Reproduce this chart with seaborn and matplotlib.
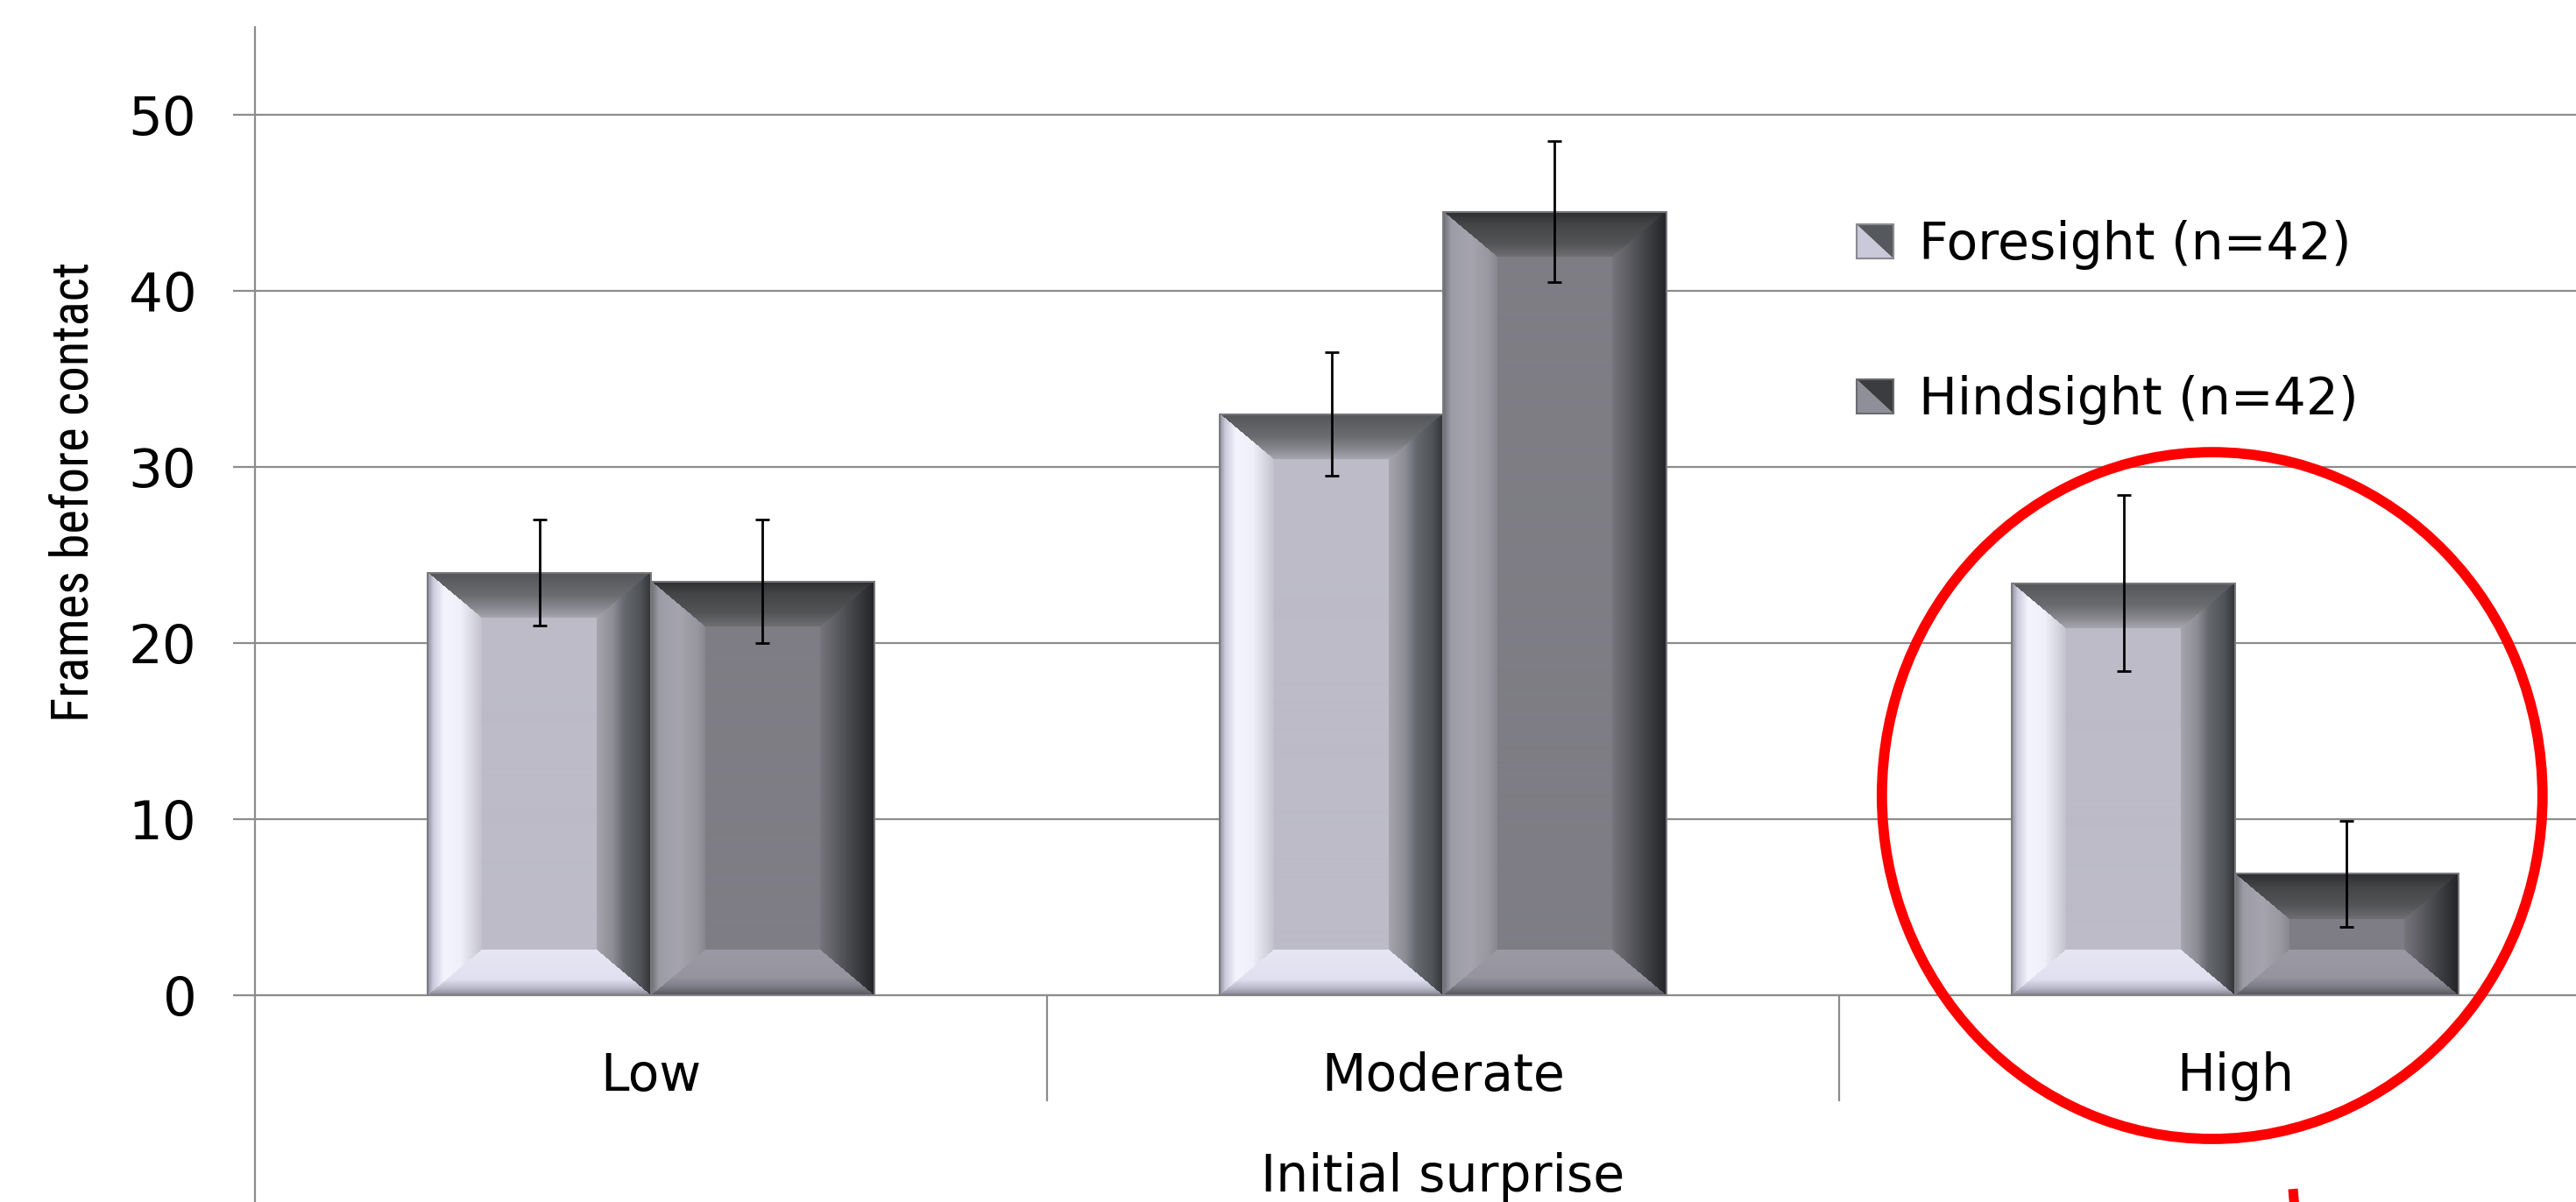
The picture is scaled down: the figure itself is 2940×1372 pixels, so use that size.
import numpy as np
import pandas as pd
import matplotlib
matplotlib.use("Agg")
import matplotlib.pyplot as plt
import seaborn as sns
from matplotlib import font_manager as fm
from matplotlib.patches import Ellipse, Polygon, Rectangle, Patch
from matplotlib.legend_handler import HandlerBase
from matplotlib.colors import to_rgb

# ---- data -------------------------------------------------------------
categories = ["Low", "Moderate", "High"]
groups = ["Foresight (n=42)", "Hindsight (n=42)"]
foresight = [24.0, 33.0, 23.4]
foresight_err = [3.0, 3.5, 5.0]
hindsight = [23.5, 44.5, 6.9]
hindsight_err = [3.5, 4.0, 3.0]
y_ticks = [0, 10, 20, 30, 40, 50]

df = pd.DataFrame({
    "surprise": categories * 2,
    "group": [groups[0]] * len(categories) + [groups[1]] * len(categories),
    "frames": foresight + hindsight,
})
errors = {groups[0]: foresight_err, groups[1]: hindsight_err}

# ---- bevel styles (face + gradient stops from outer edge t=0 to inner t=1)
styles = {
    groups[0]: {
        "face": "#BDBBC8",
        "left": [(0, "#8a8a98"), (0.1, "#c8c8da"), (0.3, "#f4f4ff"), (0.6, "#f0f0fb"), (0.85, "#d5d5e0"), (1, "#c2c1cc")],
        "top": [(0, "#545558"), (0.5, "#6b6c6f"), (0.8, "#8a8a90"), (1, "#a7a7b0")],
        "right": [(0, "#323538"), (0.2, "#505357"), (0.5, "#666a6f"), (0.7, "#8d8d95"), (1, "#a6a5af")],
        "bottom": [(0, "#84848f"), (0.15, "#b8b8c8"), (0.35, "#e0e0f0"), (1, "#e6e6f4")],
    },
    groups[1]: {
        "face": "#7E7D84",
        "left": [(0, "#6c6c74"), (0.15, "#9c9ca6"), (0.5, "#a6a5af"), (0.85, "#98979f"), (1, "#88878e")],
        "top": [(0, "#2c2d2f"), (0.3, "#454648"), (0.7, "#535456"), (1, "#6f6f73")],
        "right": [(0, "#222426"), (0.3, "#3a3c3f"), (0.6, "#54555a"), (1, "#76757c")],
        "bottom": [(0, "#56565e"), (0.2, "#7f7f89"), (0.4, "#96959f"), (1, "#9b9aa4")],
    },
}

W, H, DPI = 2940, 1372, 100
GRID = "#8c8c8c"

sns.set_theme(style="white")
plt.rcParams["font.family"] = ["DejaVu Sans"]
plt.rcParams["text.color"] = "black"
plt.rcParams["axes.labelcolor"] = "black"

fig = plt.figure(figsize=(W / DPI, H / DPI), dpi=DPI)
fig.patch.set_facecolor("white")
ax = fig.add_axes([291 / W, (H - 1136) / H, 2712 / W, 1105.5 / H])

sns.barplot(data=df, x="surprise", y="frames", hue="group", order=categories,
            hue_order=groups, palette=[styles[g]["face"] for g in groups],
            width=0.564, errorbar=None, edgecolor="none", linewidth=0,
            legend=False, ax=ax, zorder=3)

ax.set_xlim(-0.5, len(categories) - 0.5)
ax.set_ylim(0, 55)


def ramp(stops, t):
    ts = [s[0] for s in stops]
    cols = np.array([to_rgb(s[1]) for s in stops])
    return np.stack([np.interp(t, ts, cols[:, k]) for k in range(3)], axis=-1)


def bevel_image(wpx, hpx, style, bx=62.0, by=52.0):
    nx, ny = max(int(round(wpx)), 2), max(int(round(hpx)), 2)
    X, Y = np.meshgrid(np.arange(nx) + 0.5, np.arange(ny) + 0.5)
    D = np.stack([X / bx, Y / by, (nx - X) / bx, (ny - Y) / by])
    idx = np.argmin(D, axis=0)
    dmin = np.min(D, axis=0)
    img = np.empty((ny, nx, 3))
    img[:] = to_rgb(style["face"])
    for k, side in enumerate(["left", "top", "right", "bottom"]):
        m = (idx == k) & (dmin < 1)
        img[m] = ramp(style[side], dmin[m])
    return img


# pixel size of one data unit along each axis
p0 = ax.transData.transform((0, 0))
p1 = ax.transData.transform((1, 1))
sx, sy = p1[0] - p0[0], p1[1] - p0[1]

for g, container in zip(groups, ax.containers):
    xs, ys = [], []
    for bar in container:
        x0, w, h = bar.get_x(), bar.get_width(), bar.get_height()
        img = bevel_image(w * sx, h * sy, styles[g])
        ax.imshow(img, extent=(x0, x0 + w, 0, h), origin="upper",
                  aspect="auto", interpolation="bilinear", zorder=3.5)
        ax.add_patch(Rectangle((x0, 0), w, h, fill=False, ec="#7a7a7e",
                               lw=1.4, zorder=3.8))
        xs.append(x0 + w / 2)
        ys.append(h)
    ax.errorbar(xs, ys, yerr=errors[g], fmt="none", ecolor="black",
                elinewidth=2.0, capsize=6, capthick=2.0, zorder=5)

ax.set_xlim(-0.5, len(categories) - 0.5)
ax.set_ylim(0, 55)

# ---- axes styling -------------------------------------------------------
ax.set_yticks(y_ticks)
ax.set_yticklabels([str(v) for v in y_ticks], fontsize=44)
ax.yaxis.grid(True, color=GRID, lw=1.6, zorder=0)
ax.xaxis.grid(False)
ax.set_axisbelow(True)
ax.tick_params(axis="y", direction="out", length=18, width=1.6, color=GRID,
               labelcolor="black", pad=30, left=True)
ax.tick_params(axis="x", which="major", length=0, pad=46, labelsize=42,
               labelcolor="black")
ax.set_xticks(range(len(categories)))
ax.set_xticklabels(categories)
ax.set_xticks([i + 0.5 for i in range(len(categories))], minor=True)
ax.tick_params(axis="x", which="minor", direction="out", length=87, width=1.6,
               color=GRID, bottom=True)

for side in ["top", "right"]:
    ax.spines[side].set_visible(False)
ax.spines["left"].set_color(GRID)
ax.spines["left"].set_linewidth(1.6)
ax.spines["left"].set_bounds(-12.5, 55)
ax.spines["bottom"].set_color(GRID)
ax.spines["bottom"].set_linewidth(1.6)

ax.set_xlabel("Initial surprise", fontsize=42)
ax.xaxis.set_label_coords(0.5, -0.1615)

# y label in a narrow face when one is available, sized to its span
label_family = "DejaVu Sans"
label_stretch = "normal"
for fam, stretch in [("Liberation Sans Narrow", "normal"),
                     ("Roboto Condensed", "normal"),
                     ("DejaVu Sans", "condensed"),
                     ("Roboto", "condensed"),
                     ("Roboto", "normal")]:
    try:
        path = fm.findfont(fm.FontProperties(family=fam, stretch=stretch),
                           fallback_to_default=False)
        if stretch == "condensed" and "ondensed" not in path:
            continue
        label_family, label_stretch = fam, stretch
        break
    except Exception:
        continue

ylab = ax.set_ylabel("Frames before contact", fontsize=44,
                     family=label_family, fontstretch=label_stretch)
renderer = fig.canvas.get_renderer()
span = ylab.get_window_extent(renderer).height
ylab.set_fontsize(44 * 525.0 / span)
ax.yaxis.set_label_coords(-0.066, 0.52)


# ---- legend with bevelled square keys -------------------------------------
class BevelKey(HandlerBase):
    def __init__(self, light, dark, edge):
        super().__init__()
        self.light, self.dark, self.edge = light, dark, edge

    def create_artists(self, legend, orig_handle, xdescent, ydescent,
                       width, height, fontsize, trans):
        x0, y0 = -xdescent, -ydescent
        lower = Polygon([[x0, y0 + height], [x0, y0], [x0 + width, y0]],
                        closed=True, fc=self.light, ec="none", transform=trans)
        upper = Polygon([[x0, y0 + height], [x0 + width, y0 + height],
                         [x0 + width, y0]], closed=True, fc=self.dark,
                        ec="none", transform=trans)
        frame = Rectangle((x0, y0), width, height, fill=False, ec=self.edge,
                          lw=1.5, transform=trans)
        return [lower, upper, frame]


h_fore = Patch(label=groups[0])
h_hind = Patch(label=groups[1])
ax.legend(handles=[h_fore, h_hind], labels=groups,
          handler_map={h_fore: BevelKey("#c9c9da", "#55585c", "#8a8a90"),
                       h_hind: BevelKey("#8f8f99", "#3a3c3f", "#6a6a70")},
          loc="upper left", bbox_to_anchor=(2090 / W, 1 - 222 / H),
          bbox_transform=fig.transFigure, frameon=False, fontsize=42,
          borderpad=0, handlelength=0.72, handleheight=0.65,
          handletextpad=0.5, labelspacing=2.05, labelcolor="black")

# ---- red highlight around the "High" group ----------------------------------
ax.add_patch(Ellipse((1.971, 11.34), 0.834, 39.0, fill=False, ec="#ff0000",
                     lw=8.5, clip_on=False, zorder=6))
ax.plot([2.073, 2.076], [-11.0, -12.6], color="#ff0000", lw=8,
        solid_capstyle="butt", clip_on=False, zorder=6)

fig.savefig("out.png", dpi=DPI, facecolor="white")
